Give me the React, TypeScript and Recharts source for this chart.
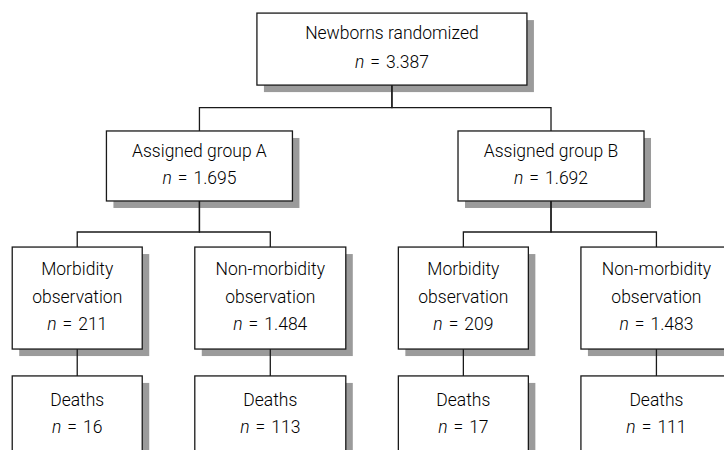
import React from 'react';
import { ScatterChart, Scatter, XAxis, YAxis } from 'recharts';

// ---- data ----
const nodeTitles: string[][] = [
  ['Newborns randomized'],
  ['Assigned group A'],
  ['Assigned group B'],
  ['Morbidity', 'observation'],
  ['Non-morbidity', 'observation'],
  ['Morbidity', 'observation'],
  ['Non-morbidity', 'observation'],
  ['Deaths'],
  ['Deaths'],
  ['Deaths'],
  ['Deaths'],
];
const nodeCounts = [3387, 1695, 1692, 211, 1484, 209, 1483, 16, 113, 17, 111];
const nodeParents = [-1, 0, 0, 1, 1, 2, 2, 3, 4, 5, 6];
// tree layout: horizontal slot and vertical tier of each node
const nodeSlots = [1.63, 0.633, 2.454, 0, 1, 2, 3, 0, 1, 2, 3];
const nodeTiers = [0, 1, 1, 2.13, 2.13, 2.13, 2.13, 3.13, 3.13, 3.13, 3.13];

// ---- styles ----
const BOX_W = [270, 186, 186, 130, 151, 130, 151, 130, 151, 130, 151];
const TIER_H: Record<string, number> = { '0': 72, '1': 70, '2.13': 102, '3.13': 78 };
const TIER_LH: Record<string, number> = { '0': 29, '1': 27, '2.13': 27.5, '3.13': 27 };
const SHADOW = 7;
const INK = '#1a1a1a';
const TEXT_INK = '#000000';
const FONT = 'Roboto, "Open Sans", sans-serif';
const FONT_SIZE = 17.5;

const fmt = (v: number) => String(v).replace(/\B(?=(\d{3})+(?!\d))/g, '.');

const nodes = nodeTitles.map((title, i) => ({
  id: i,
  x: nodeSlots[i],
  y: nodeTiers[i],
  title,
  count: nodeCounts[i],
}));

const connectors = nodes
  .filter((n) => nodeParents[n.id] >= 0)
  .map((n) => {
    const p = nodes[nodeParents[n.id]];
    const mid = (p.y + n.y) / 2;
    return [
      { x: p.x, y: p.y },
      { x: p.x, y: mid },
      { x: n.x, y: mid },
      { x: n.x, y: n.y },
    ];
  });

const Empty = () => <g />;

const ShadowShape = (props: any) => {
  const { cx, cy, payload } = props;
  const w = BOX_W[payload.id];
  const h = TIER_H[String(payload.y)];
  return <rect x={cx - w / 2 + SHADOW} y={cy - h / 2 + SHADOW} width={w} height={h} fill="#9b9b9b" />;
};

const BoxShape = (props: any) => {
  const { cx, cy, payload } = props;
  const w = BOX_W[payload.id];
  const h = TIER_H[String(payload.y)];
  const lh = TIER_LH[String(payload.y)];
  const lines: string[] = payload.title;
  const total = lines.length + 1;
  const base = (k: number) => cy + (k - (total - 1) / 2) * lh + 4.8;
  return (
    <g>
      <rect x={cx - w / 2} y={cy - h / 2} width={w} height={h} fill="#ffffff" stroke={INK} strokeWidth={1.3} />
      {lines.map((t, k) => (
        <text key={k} x={cx} y={base(k)} textAnchor="middle" fontFamily={FONT} fontSize={FONT_SIZE} fontWeight={300} fill={TEXT_INK}>
          {t}
        </text>
      ))}
      <text x={cx} y={base(lines.length)} textAnchor="middle" fontFamily={FONT} fontSize={FONT_SIZE} fontWeight={300} fill={TEXT_INK}>
        <tspan fontStyle="italic">n</tspan>
        <tspan dx={6}>=</tspan>
        <tspan dx={6}>{fmt(payload.count)}</tspan>
      </text>
    </g>
  );
};

export default function App() {
  return (
    <div style={{ position: 'absolute', left: 0, top: 0, width: 724, height: 450, background: '#fff' }}>
      <ScatterChart width={724} height={450} margin={{ top: 0, right: 0, bottom: 0, left: 0 }}>
        <XAxis type="number" dataKey="x" domain={[-0.4, 3.35]} allowDataOverflow hide />
        <YAxis type="number" dataKey="y" domain={[-0.42, 3.43]} allowDataOverflow reversed hide />
        <Scatter data={nodes} shape={ShadowShape} isAnimationActive={false} />
        {connectors.map((pts, i) => (
          <Scatter
            key={i}
            data={pts}
            line={{ stroke: INK, strokeWidth: 1.3 }}
            lineType="joint"
            shape={Empty}
            isAnimationActive={false}
          />
        ))}
        <Scatter data={nodes} shape={BoxShape} isAnimationActive={false} />
      </ScatterChart>
    </div>
  );
}
